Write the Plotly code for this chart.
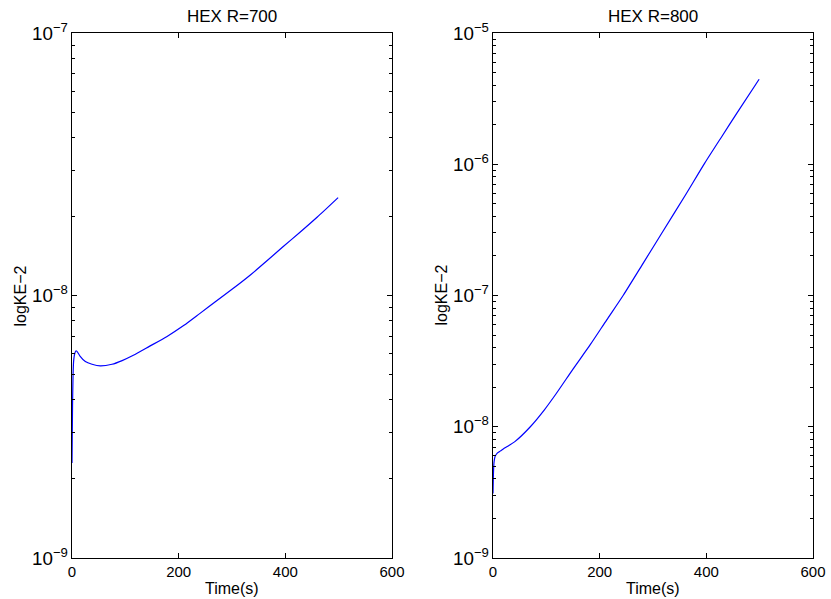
import plotly.graph_objects as go

# HEX R=700 (left panel)
t700 = [0, 1, 2, 3, 5, 7.5, 10, 15, 25, 37.5, 53, 75, 94, 115, 145, 177.5, 210, 240, 270, 302.5, 335, 365, 395, 427.5, 460, 499]
ke700 = [2.3e-9, 3.8e-9, 5.0e-9, 5.6e-9, 6.0e-9, 6.16e-9, 6.1e-9, 5.88e-9, 5.6e-9, 5.47e-9, 5.39e-9, 5.47e-9, 5.65e-9,
         5.92e-9, 6.4e-9, 6.97e-9, 7.7e-9, 8.55e-9, 9.5e-9, 1.065e-8, 1.2e-8, 1.353e-8, 1.53e-8, 1.741e-8, 1.99e-8, 2.36e-8]

# HEX R=800 (right panel)
t800 = [0, 1, 2, 4, 8, 14, 21, 30, 41, 70, 96, 119, 150, 182, 213, 244, 280, 319, 360, 397, 430, 457, 499]
ke800 = [3.1e-9, 4.6e-9, 5.4e-9, 5.95e-9, 6.3e-9, 6.55e-9, 6.85e-9, 7.2e-9, 7.7e-9, 1.0e-8, 1.34e-8, 1.8e-8, 2.75e-8,
         4.2e-8, 6.5e-8, 1.0e-7, 1.72e-7, 3.1e-7, 5.75e-7, 1.02e-6, 1.65e-6, 2.44e-6, 4.44e-6]

titles = ["HEX R=700", "HEX R=800"]
xlabel = "Time(s)"
ylabel = "logKE\u22122"
xticks = [0, 200, 400, 600]

font = dict(family="Liberation Sans, Arial, sans-serif", size=15, color="black")
lfont = dict(family="Liberation Sans, Arial, sans-serif", size=16, color="black")
tfont = dict(family="Liberation Sans, Arial, sans-serif", size=17, color="black")

fig = go.Figure()
fig.add_trace(go.Scatter(x=t700, y=ke700, mode="lines", line=dict(color="#0000ff", width=1.2, shape="spline", smoothing=0.6),
                         xaxis="x", yaxis="y", showlegend=False))
fig.add_trace(go.Scatter(x=t800, y=ke800, mode="lines", line=dict(color="#0000ff", width=1.2, shape="spline", smoothing=0.6),
                         xaxis="x2", yaxis="y2", showlegend=False))

W, H = 831, 599
xd1 = [72 / W, 392 / W]
xd2 = [493 / W, 813 / W]
yd = [1 - 558 / H, 1 - 33 / H]

common_x = dict(range=[0, 600], tickvals=xticks, ticks="inside", ticklen=5, tickcolor="black",
                showline=True, linecolor="black", linewidth=1.3, mirror="ticks", showgrid=False, zeroline=False,
                tickfont=font, automargin=False)
common_y = dict(type="log", dtick=1, exponentformat="power", ticks="inside", ticklen=5, tickcolor="black",
                showline=True, linecolor="black", linewidth=1.3, mirror="ticks", showgrid=False, zeroline=False,
                tickfont=font, minor=dict(ticks="inside", ticklen=3, tickcolor="black", dtick="D1", showgrid=False),
                domain=yd, automargin=False)

ann = []
for i, xd in enumerate([xd1, xd2]):
    cx = (xd[0] + xd[1]) / 2
    ann.append(dict(text=titles[i], x=cx, y=1 - 16 / H, xref="paper", yref="paper",
                    showarrow=False, font=tfont, xanchor="center", yanchor="middle"))
    ann.append(dict(text=xlabel, x=cx, y=1 - 588 / H, xref="paper", yref="paper",
                    showarrow=False, font=lfont, xanchor="center", yanchor="middle"))
    ann.append(dict(text=ylabel, x=xd[0] - 52 / W, y=(yd[0] + yd[1]) / 2, xref="paper", yref="paper",
                    showarrow=False, font=lfont, xanchor="center", yanchor="middle", textangle=-90))

fig.update_layout(
    width=W, height=H, margin=dict(l=0, r=0, t=0, b=0),
    paper_bgcolor="white", plot_bgcolor="white", font=font,
    xaxis=dict(common_x, domain=xd1, anchor="y"),
    yaxis=dict(common_y, range=[-9, -7], anchor="x"),
    xaxis2=dict(common_x, domain=xd2, anchor="y2"),
    yaxis2=dict(common_y, range=[-9, -5], anchor="x2"),
    annotations=ann,
)

fig.write_html("out.html")
